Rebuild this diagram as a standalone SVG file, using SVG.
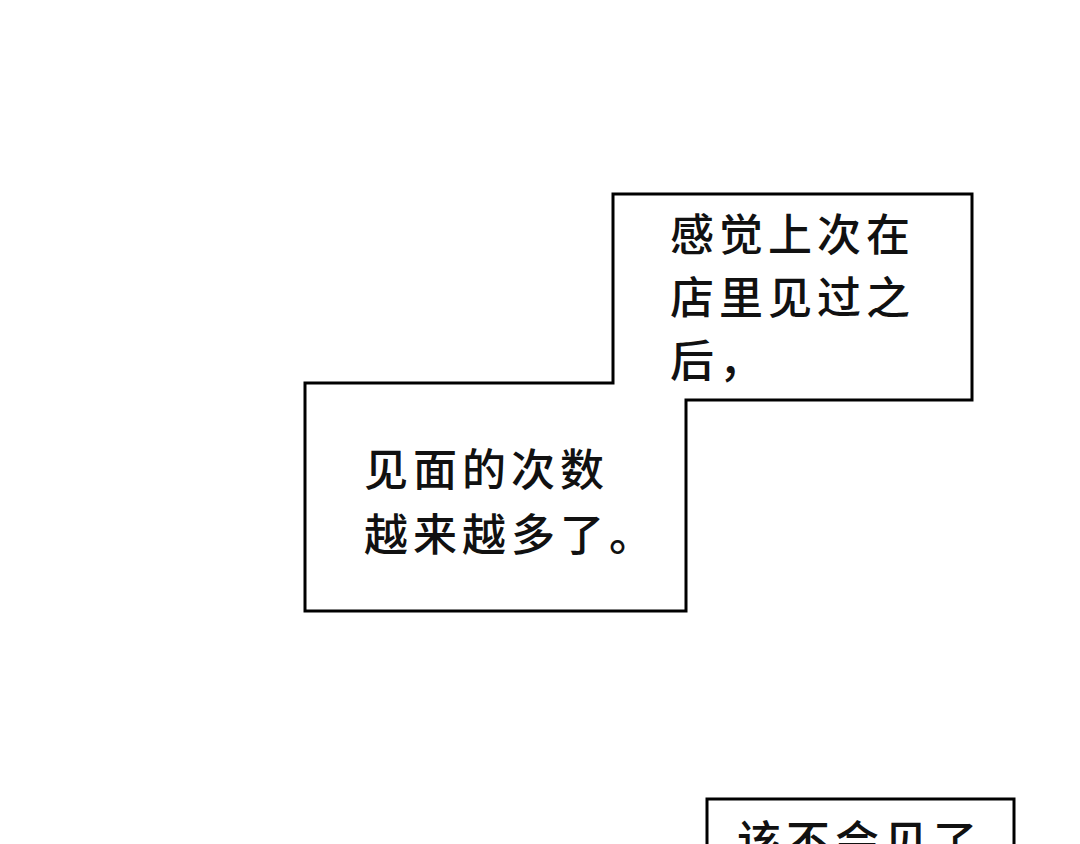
<svg xmlns="http://www.w3.org/2000/svg" width="1080" height="844" viewBox="0 0 1080 844">
<style>
.b{fill:#fff;stroke:#000;stroke-width:3}
.t{font-family:"Noto Sans CJK SC",sans-serif;font-weight:500;font-size:44px;letter-spacing:5px;fill:#111}
</style>
<rect width="1080" height="844" fill="#fff"/>
<g id="bubble1">
<path class="b" d="M613,194 H972 V400 H686 V611 H305 V383 H613 Z"/>
<text class="t" x="670" y="251">感觉上次在</text>
<text class="t" x="670" y="314">店里见过之</text>
<text class="t" x="670" y="377">后，</text>
<text class="t" x="364" y="486">见面的次数</text>
<text class="t" x="364" y="551">越来越多了。</text>
</g>
<g id="bubble2">
<rect class="b" x="707" y="799" width="307" height="80"/>
<text class="t" x="737" y="858" font-size="50" font-weight="bold">该不会见了</text>
</g>
<g id="connectors"/>
</svg>
